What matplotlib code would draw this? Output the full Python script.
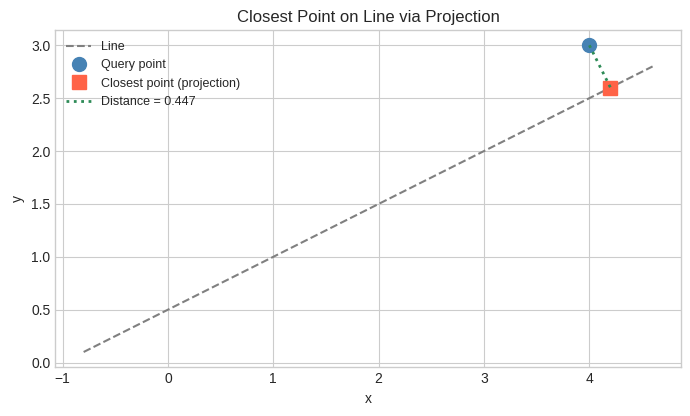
import matplotlib
matplotlib.use("Agg")
import matplotlib.pyplot as plt

# line endpoints
line_x = [-0.8, 4.6]
line_y = [0.1, 2.8]
# query point and its projection onto the line
query = [4.0, 3.0]
closest = [4.2, 2.6]
dist = 0.447

plt.style.use("seaborn-v0_8-whitegrid")
fig, ax = plt.subplots(figsize=(6.9, 4.16), dpi=100)

ax.plot(line_x, line_y, linestyle="--", color="gray", label="Line")
ax.plot(query[0], query[1], "o", color="steelblue", markersize=10, label="Query point")
ax.plot(closest[0], closest[1], "s", color="tomato", markersize=10, label="Closest point (projection)")
ax.plot([query[0], closest[0]], [query[1], closest[1]], linestyle=":", color="seagreen",
        linewidth=2, label="Distance = %.3f" % dist)

ax.set_xlabel("x")
ax.set_ylabel("y")
ax.set_title("Closest Point on Line via Projection")
ax.legend(loc="upper left", fontsize=9)
ax.spines[:].set_visible(True)
ax.spines[:].set_color("#cccccc")

fig.subplots_adjust(left=0.08, right=0.987, bottom=0.117, top=0.928)
fig.savefig("out.png")
